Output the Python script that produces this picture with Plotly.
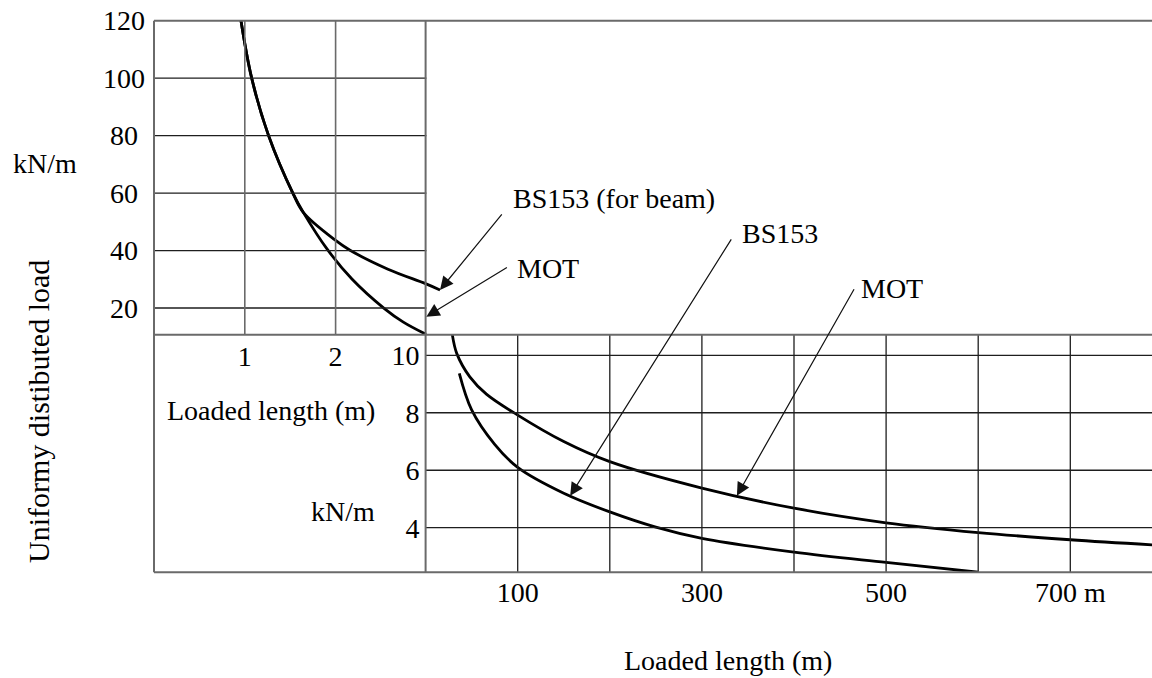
import numpy as np
import plotly.graph_objects as go

W, H = 1152, 678
FONT = "Liberation Serif"
FS = 28

# ---- upper panel: short loaded lengths (0-3 m), load in kN/m ----
BEAM_X = [0.958, 1.076, 1.262, 1.529, 1.646, 1.993, 2.159, 2.577, 2.996, 3.15]
BEAM_Y = [120, 100, 80, 60, 53.2, 43.7, 40.1, 33.5, 28.4, 26.3]
MOT_UP_X = [0.958, 1.076, 1.262, 1.529, 1.646, 1.911, 2.18, 2.534, 2.746, 2.996]
MOT_UP_Y = [120, 100, 80, 60, 53.2, 40.3, 30.1, 19.9, 15.1, 10.85]

# ---- lower panel: long loaded lengths (m), load in kN/m ----
MOT_X = [29, 34, 48, 66, 100, 150, 200, 300, 400, 500, 600, 700, 790]
MOT_Y = [10.72, 10.05, 9.25, 8.65, 7.92, 7.0, 6.3, 5.38, 4.68, 4.17, 3.83, 3.58, 3.40]
BS_X = [36.6, 50, 75, 100, 150, 200, 250, 300, 400, 500, 600]
BS_Y = [9.37, 8.1, 6.9, 6.1, 5.2, 4.55, 4.02, 3.63, 3.15, 2.79, 2.45]

UP_YTICKS = [20, 40, 60, 80, 100, 120]
UP_XTICKS = [1, 2]
LO_YTICKS = [4, 6, 8, 10]
LO_XTICKS = [100, 300, 500, 700]
LO_XTEXT = ["100", "300", "500", "700 m"]
LO_XGRID = [100, 200, 300, 400, 500, 600, 700]

# axis ranges
UP_XR = [0, (W - 154) / 90.8]
UP_YR = [10.71, 120]
LO_XR = [-(425.6 - 154) / 0.921, (W - 425.6) / 0.921]
LO_YR = [2.448, 10.717]

LEFT = 154 / W
TOP_UP, BOT_UP = 1 - 20.7 / H, 1 - 334.7 / H
BOT_LO = 1 - 572.3 / H

FRAME = "#6a6a6a"
GRID = "#1e1e1e"

fig = go.Figure()
curve = dict(color="black", width=2.8, shape="spline", smoothing=1.0)
fig.add_trace(go.Scatter(x=BEAM_X, y=BEAM_Y, mode="lines", line=curve,
                         name="BS153 (for beam)", xaxis="x", yaxis="y"))
fig.add_trace(go.Scatter(x=MOT_UP_X, y=MOT_UP_Y, mode="lines", line=curve,
                         name="MOT", xaxis="x", yaxis="y"))
fig.add_trace(go.Scatter(x=MOT_X, y=MOT_Y, mode="lines", line=curve,
                         name="MOT", xaxis="x2", yaxis="y2"))
fig.add_trace(go.Scatter(x=BS_X, y=BS_Y, mode="lines", line=curve,
                         name="BS153", xaxis="x2", yaxis="y2"))

shapes = []
# upper grid
for v in UP_YTICKS[:-1]:
    shapes.append(dict(type="line", xref="x", yref="y", x0=0, x1=3, y0=v, y1=v,
                       line=dict(color=GRID, width=1.3)))
for v in UP_XTICKS:
    shapes.append(dict(type="line", xref="x", yref="y", x0=v, x1=v, y0=UP_YR[0], y1=UP_YR[1],
                       line=dict(color=FRAME, width=1.6)))
# lower grid
for v in LO_YTICKS:
    shapes.append(dict(type="line", xref="x2", yref="y2", x0=0, x1=LO_XR[1], y0=v, y1=v,
                       line=dict(color=GRID, width=1.3)))
for v in LO_XGRID:
    shapes.append(dict(type="line", xref="x2", yref="y2", x0=v, x1=v, y0=LO_YR[0], y1=LO_YR[1],
                       line=dict(color=GRID, width=1.3)))
# frame
fw = 2
shapes += [
    dict(type="line", xref="paper", yref="paper", x0=LEFT, x1=1, y0=TOP_UP, y1=TOP_UP,
         line=dict(color=FRAME, width=fw)),
    dict(type="line", xref="paper", yref="paper", x0=LEFT, x1=1, y0=BOT_UP, y1=BOT_UP,
         line=dict(color=FRAME, width=fw)),
    dict(type="line", xref="paper", yref="paper", x0=LEFT, x1=1, y0=BOT_LO, y1=BOT_LO,
         line=dict(color=FRAME, width=fw)),
    dict(type="line", xref="paper", yref="paper", x0=LEFT, x1=LEFT, y0=BOT_LO, y1=TOP_UP,
         line=dict(color=FRAME, width=fw)),
    dict(type="line", xref="x2", yref="paper", x0=0, x1=0, y0=BOT_LO, y1=TOP_UP,
         line=dict(color=FRAME, width=fw)),
]


def px(x, y):
    return x / W, 1 - y / H


annotations = []


def label(text, x, y, xanchor="center", angle=0, size=FS):
    xp, yp = px(x, y)
    annotations.append(dict(text=text, x=xp, y=yp, xref="paper", yref="paper",
                            xanchor=xanchor, yanchor="middle", showarrow=False,
                            font=dict(family=FONT, size=size, color="black"),
                            textangle=angle))


# upper load scale, labels centred in the left margin
for v in UP_YTICKS:
    annotations.append(dict(text=str(v), x=123.5 / W, y=v, xref="paper", yref="y",
                            xanchor="center", yanchor="middle", showarrow=False,
                            font=dict(family=FONT, size=FS, color="black")))

label("kN/m", 44.5, 163)
label("Uniformy distibuted load", 38, 412, angle=-90, size=30)
label("Loaded length (m)", 271, 410)
label("kN/m", 343, 511)
label("Loaded length (m)", 727.5, 660)
label("BS153 (for beam)", 511, 198, xanchor="left")
label("MOT", 515, 268, xanchor="left")
label("BS153", 740, 233, xanchor="left")
label("MOT", 859, 288, xanchor="left")

arrow = dict(showarrow=True, text="", arrowhead=2, arrowsize=2.2, arrowwidth=1.2,
             arrowcolor="#111", standoff=0)
annotations.append(dict(x=BEAM_X[-1], y=BEAM_Y[-1], xref="x", yref="y",
                        ax=63, ay=-77, **arrow))
annotations.append(dict(x=3.0, y=17, xref="x", yref="y", ax=82, ay=-50, **arrow))
bx = 157
annotations.append(dict(x=bx, y=float(np.interp(bx, BS_X, BS_Y)), xref="x2", yref="y2",
                        ax=162, ay=-258, **arrow))
mx = 338
annotations.append(dict(x=mx, y=float(np.interp(mx, MOT_X, MOT_Y)), xref="x2", yref="y2",
                        ax=118, ay=-208, **arrow))

axfont = dict(family=FONT, size=FS, color="black")
common = dict(showgrid=False, zeroline=False, showline=False, ticks="",
              tickfont=axfont, automargin=False, fixedrange=True)
fig.update_layout(
    width=W, height=H, margin=dict(l=0, r=0, t=0, b=0, pad=0, autoexpand=False),
    paper_bgcolor="white", plot_bgcolor="white", showlegend=False,
    xaxis=dict(domain=[LEFT, 1], range=UP_XR, anchor="y", tickvals=UP_XTICKS,
               ticklabelstandoff=2, **common),
    yaxis=dict(domain=[BOT_UP, TOP_UP], range=UP_YR, anchor="x", showticklabels=False,
               **common),
    xaxis2=dict(domain=[LEFT, 1], range=LO_XR, anchor="y2", tickvals=LO_XTICKS,
                ticktext=LO_XTEXT, ticklabelstandoff=1, **common),
    yaxis2=dict(domain=[BOT_LO, BOT_UP], range=LO_YR, anchor="free",
                position=425.6 / W, tickvals=LO_YTICKS, ticklabelstandoff=6, **common),
    shapes=shapes, annotations=annotations,
)

fig.write_html("out.html")
